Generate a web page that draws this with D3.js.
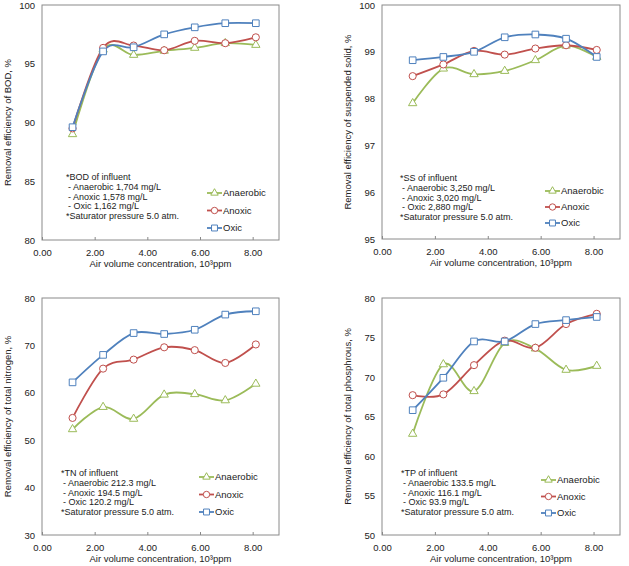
<!DOCTYPE html>
<html>
<head>
<meta charset="utf-8">
<script src="https://cdn.jsdelivr.net/npm/d3@7"></script>
<style>
  body { margin: 0; background: #fff; }
  svg { font-family: "Liberation Sans", Arial, sans-serif; display: block; }
  .tick text { font-size: 9.5px; fill: #222; }
  .tick line { stroke: #888; }
  .domain { stroke: none; }
</style>
</head>
<body>
<svg width="629" height="566"></svg>
<script>
// air volume concentration (10^3 ppm), same for every panel
const airVolume = [1.16, 2.32, 3.48, 4.64, 5.80, 6.96, 8.12];
const seriesNames = ['Anaerobic', 'Anoxic', 'Oxic'];

// removal efficiency, %
const bodAnaerobic = [89.0, 96.2, 95.75, 96.1, 96.35, 96.75, 96.6];
const bodAnoxic    = [89.5, 96.35, 96.55, 96.15, 96.95, 96.75, 97.25];
const bodOxic      = [89.6, 96.05, 96.4, 97.5, 98.1, 98.45, 98.45];

const ssAnaerobic = [97.9, 98.64, 98.52, 98.59, 98.82, 99.13, 98.89];
const ssAnoxic    = [98.48, 98.73, 99.02, 98.94, 99.07, 99.14, 99.04];
const ssOxic      = [98.82, 98.89, 99.0, 99.31, 99.37, 99.28, 98.89];

const tnAnaerobic = [52.3, 57.0, 54.5, 59.6, 59.7, 58.4, 61.9];
const tnAnoxic    = [54.7, 65.1, 67.0, 69.6, 69.0, 66.3, 70.2];
const tnOxic      = [62.2, 68.0, 72.6, 72.4, 73.3, 76.5, 77.2];

const tpAnaerobic = [62.8, 71.6, 68.2, 74.3, 73.6, 70.9, 71.4];
const tpAnoxic    = [67.7, 67.8, 71.5, 74.6, 73.7, 76.7, 78.0];
const tpOxic      = [65.8, 69.9, 74.5, 74.5, 76.7, 77.2, 77.6];

const bodNote = ['*BOD of influent', '- Anaerobic 1,704 mg/L', '- Anoxic 1,578 mg/L', '- Oxic 1,162 mg/L', '*Saturator pressure 5.0 atm.'];
const ssNote  = ['*SS of influent', '- Anaerobic 3,250 mg/L', '- Anoxic 3,020 mg/L', '- Oxic 2,880 mg/L', '*Saturator pressure 5.0 atm.'];
const tnNote  = ['*TN of influent', '- Anaerobic 212.3 mg/L', '- Anoxic 194.5 mg/L', '- Oxic 120.2 mg/L', '*Saturator pressure 5.0 atm.'];
const tpNote  = ['*TP of influent', '- Anaerobic 133.5 mg/L', '- Anoxic 116.1 mg/L', '- Oxic 93.9 mg/L', '*Saturator pressure 5.0 atm.'];

const xTitle = 'Air volume concentration, 10\u00B3ppm';

const colors = ['#9bbb59', '#c0504d', '#4f81bd'];
const symbols = [d3.symbolTriangle, d3.symbolCircle, d3.symbolSquare];
const symSize = [30, 40, 44];

const svg = d3.select('svg');

const panels = [
  {x0: 42,  x1: 279, y0: 5,   y1: 240, yDomain: [80, 100], yStep: 5,
   yTitle: 'Removal efficiency of BOD, %', note: bodNote, series: [bodAnaerobic, bodAnoxic, bodOxic],
   noteX: 24, noteY: -63, legX: 165, legY: -47, legGap: 17.5},
  {x0: 382, x1: 620, y0: 5,   y1: 239, yDomain: [95, 100], yStep: 1,
   yTitle: 'Removal efficiency of suspended solid, %', note: ssNote, series: [ssAnaerobic, ssAnoxic, ssOxic],
   noteX: 18, noteY: -61, legX: 163, legY: -48, legGap: 16},
  {x0: 42,  x1: 279, y0: 298, y1: 535, yDomain: [30, 80], yStep: 10,
   yTitle: 'Removal efficiency of total nitrogen, %', note: tnNote, series: [tnAnaerobic, tnAnoxic, tnOxic],
   noteX: 19, noteY: -62, legX: 157, legY: -58, legGap: 17.5},
  {x0: 382, x1: 620, y0: 298, y1: 535, yDomain: [50, 80], yStep: 5,
   yTitle: 'Removal efficiency of total phosphrous, %', note: tpNote, series: [tpAnaerobic, tpAnoxic, tpOxic],
   noteX: 19, noteY: -62, legX: 159, legY: -55, legGap: 16.5}
];

panels.forEach(p => {
  const x = d3.scaleLinear().domain([0, 9]).range([p.x0, p.x1]);
  const y = d3.scaleLinear().domain(p.yDomain).range([p.y1, p.y0]);
  const g = svg.append('g');

  // plot frame
  g.append('rect')
    .attr('x', p.x0).attr('y', p.y0)
    .attr('width', p.x1 - p.x0).attr('height', p.y1 - p.y0)
    .attr('fill', 'none').attr('stroke', '#8a8a8a').attr('stroke-width', 1);

  g.append('g')
    .attr('transform', `translate(0,${p.y1})`)
    .call(d3.axisBottom(x).tickValues([0, 2, 4, 6, 8]).tickFormat(d3.format('.2f'))
      .tickSizeInner(-3).tickSizeOuter(0).tickPadding(9));

  g.append('g')
    .attr('transform', `translate(${p.x0},0)`)
    .call(d3.axisLeft(y).tickValues(d3.range(p.yDomain[0], p.yDomain[1] + 0.001, p.yStep))
      .tickFormat(d3.format('d'))
      .tickSizeInner(0).tickSizeOuter(0).tickPadding(7));

  // axis titles
  g.append('text')
    .attr('x', (p.x0 + p.x1) / 2).attr('y', p.y1 + 27)
    .attr('text-anchor', 'middle').attr('font-size', 9.5).attr('fill', '#222')
    .text(xTitle);
  g.append('text')
    .attr('transform', `translate(${p.x0 - 31},${(p.y0 + p.y1) / 2}) rotate(-90)`)
    .attr('text-anchor', 'middle').attr('font-size', 9.5).attr('fill', '#222')
    .text(p.yTitle);

  // lines + markers
  const line = d3.line()
    .x((d, i) => x(airVolume[i]))
    .y(d => y(d))
    .curve(d3.curveCardinal.tension(0));

  p.series.forEach((vals, k) => {
    g.append('path')
      .attr('d', line(vals))
      .attr('fill', 'none').attr('stroke', colors[k]).attr('stroke-width', 1.8);
  });
  p.series.forEach((vals, k) => {
    g.selectAll(null).data(vals).enter().append('path')
      .attr('transform', (d, i) => `translate(${x(airVolume[i])},${y(d)})`)
      .attr('d', d3.symbol().type(symbols[k]).size(symSize[k]))
      .attr('fill', '#fff').attr('stroke', colors[k]).attr('stroke-width', 1);
  });

  // influent note
  const note = g.append('text')
    .attr('font-size', 9).attr('fill', '#222');
  p.note.forEach((t, i) => {
    note.append('tspan')
      .attr('x', p.x0 + p.noteX + (t[0] === '-' ? 2 : 0))
      .attr('y', p.y1 + p.noteY + i * 9.8 + 3)
      .text(t);
  });

  // legend
  seriesNames.forEach((name, k) => {
    const lx = p.x0 + p.legX, ly = p.y1 + p.legY + k * p.legGap;
    g.append('line')
      .attr('x1', lx).attr('x2', lx + 15).attr('y1', ly).attr('y2', ly)
      .attr('stroke', colors[k]).attr('stroke-width', 1.8);
    g.append('path')
      .attr('transform', `translate(${lx + 7.5},${ly})`)
      .attr('d', d3.symbol().type(symbols[k]).size(symSize[k] * 0.8))
      .attr('fill', '#fff').attr('stroke', colors[k]).attr('stroke-width', 1);
    g.append('text')
      .attr('x', lx + 16).attr('y', ly + 3.3)
      .attr('font-size', 9.5).attr('fill', '#222')
      .text(name);
  });
});
</script>
</body>
</html>
